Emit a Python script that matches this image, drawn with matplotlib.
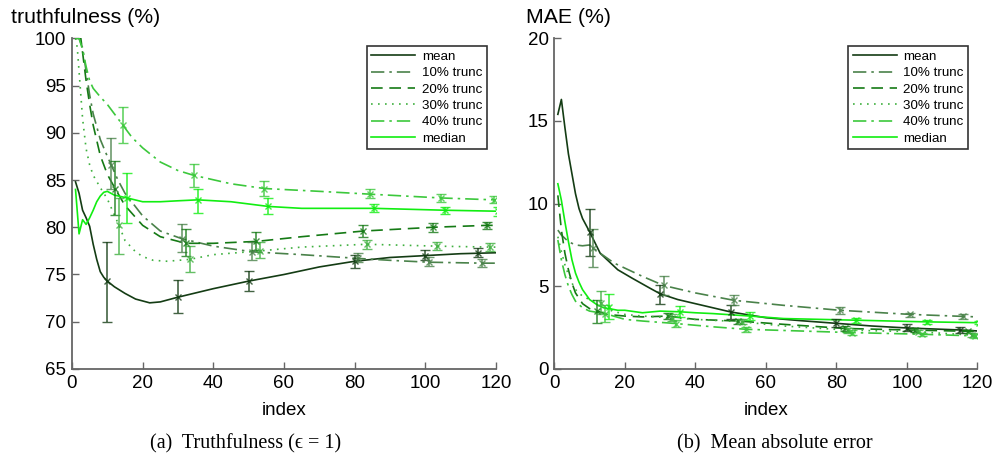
import matplotlib
matplotlib.use("Agg")
import matplotlib.pyplot as plt

plt.rcParams['font.family'] = ['Liberation Sans', 'DejaVu Sans']

# ---------------- data: truthfulness (left) ----------------
series_names = ["mean", "10% trunc", "20% trunc", "30% trunc", "40% trunc", "median"]

t_mean_x = [1, 2, 3, 4, 5, 6, 7, 8, 9, 10, 12, 15, 18, 20, 22, 25, 30, 40, 50, 60, 70, 80, 90, 100, 110, 120]
t_mean_y = [84.8, 83.6, 81.8, 81.0, 80.1, 78.2, 76.6, 75.3, 74.7, 74.3, 73.7, 73.0, 72.4, 72.2, 72.0, 72.1, 72.6, 73.5, 74.3, 75.0, 75.8, 76.4, 76.8, 77.0, 77.2, 77.3]

t_t10_x = [1, 2, 3, 4, 5, 6, 8, 10, 11.1, 13, 15, 20, 25, 31, 40, 51, 65, 81, 90, 101, 116, 120]
t_t10_y = [100, 100, 99.0, 96.5, 94.0, 92.0, 89.3, 87.5, 86.6, 85.0, 83.6, 81.2, 79.6, 78.8, 78.0, 77.4, 77.1, 76.7, 76.5, 76.3, 76.2, 76.2]

t_t20_x = [1, 2, 2.5, 3, 4, 5, 6, 8, 10, 12.2, 15, 20, 25, 32.2, 40, 52.2, 65, 82.5, 102.3, 117.4, 120]
t_t20_y = [100, 100, 100, 98.5, 95.5, 93.0, 90.8, 87.6, 85.6, 84.1, 82.3, 80.2, 79.0, 78.3, 78.3, 78.5, 79.0, 79.6, 80.0, 80.2, 80.2]

t_t30_x = [1, 1.5, 2, 3, 4, 5, 6, 8, 10, 13.3, 15, 18, 20, 23, 27, 33.3, 40, 53.3, 65, 83.4, 103.3, 118.4, 120]
t_t30_y = [100, 99.0, 96.5, 91.5, 88.3, 86.6, 85.5, 84.2, 83.0, 80.2, 78.6, 77.4, 76.9, 76.5, 76.4, 76.6, 77.1, 77.5, 77.9, 78.2, 78.0, 77.9, 77.9]

t_t40_x = [1, 2, 3, 4, 5, 6, 8, 10, 12, 14.4, 17, 20, 25, 30, 34.4, 45, 54.4, 70, 84.4, 104.4, 119.4, 120]
t_t40_y = [100, 100, 98.8, 97.0, 95.5, 94.7, 93.8, 93.0, 92.0, 90.8, 89.5, 88.4, 86.9, 86.0, 85.5, 84.6, 84.1, 83.8, 83.5, 83.1, 82.9, 82.9]

t_med_x = [1, 2, 3, 4, 5, 6, 7, 8, 9, 10, 12, 15.6, 20, 25, 30, 35.6, 45, 55.6, 65, 85.6, 105.6, 120]
t_med_y = [84.0, 79.3, 80.8, 80.3, 81.0, 81.8, 82.7, 83.3, 83.7, 83.8, 83.4, 83.1, 82.7, 82.7, 82.8, 82.9, 82.7, 82.2, 82.0, 82.0, 81.8, 81.7]

# error bars (x, value, low, high)
t_err = {
    "mean":      ([10, 30, 50, 80, 100, 115], [74.3, 72.6, 74.3, 76.4, 77.0, 77.3],
                  [70.0, 70.9, 73.3, 75.7, 76.5, 76.8], [78.4, 74.4, 75.4, 77.1, 77.6, 77.8]),
    "10% trunc": ([11.1, 31, 51, 81, 101, 116], [86.6, 78.8, 77.4, 76.7, 76.3, 76.2],
                  [84.0, 77.4, 76.5, 76.3, 75.9, 75.8], [89.4, 80.3, 78.4, 77.3, 76.8, 76.6]),
    "20% trunc": ([12.2, 32.2, 52.2, 82.5, 102.3, 117.4], [84.1, 78.3, 78.5, 79.6, 80.0, 80.2],
                  [81.3, 77.0, 77.6, 79.0, 79.5, 79.8], [87.0, 79.8, 79.5, 80.2, 80.4, 80.6]),
    "30% trunc": ([13.3, 33.3, 53.3, 83.4, 103.3, 118.4], [80.2, 76.6, 77.5, 78.2, 78.0, 77.9],
                  [77.2, 75.3, 76.7, 77.7, 77.6, 77.5], [83.1, 78.0, 78.4, 78.7, 78.4, 78.3]),
    "40% trunc": ([14.4, 34.4, 54.4, 84.4, 104.4, 119.4], [90.8, 85.5, 84.1, 83.5, 83.1, 82.9],
                  [88.9, 84.3, 83.3, 83.1, 82.7, 82.6], [92.7, 86.7, 84.9, 84.0, 83.5, 83.3]),
    "median":    ([15.6, 35.6, 55.6, 85.6, 105.6, 120.6], [83.1, 82.9, 82.3, 82.0, 81.8, 81.7],
                  [80.4, 81.5, 81.4, 81.6, 81.4, 81.2], [85.7, 84.1, 83.1, 82.5, 82.1, 82.1]),
}

# ---------------- data: MAE (right) ----------------
m_mean_x = [1, 2, 3, 4, 5, 6, 7, 8, 10, 13, 15, 18, 22, 27, 30, 35, 40, 50, 60, 70, 80, 90, 100, 110, 115, 120]
m_mean_y = [15.4, 16.3, 14.6, 13.0, 11.8, 10.6, 9.7, 9.1, 8.3, 7.0, 6.6, 6.0, 5.5, 4.9, 4.55, 4.2, 3.95, 3.45, 3.1, 2.92, 2.76, 2.6, 2.48, 2.4, 2.36, 2.3]

m_t10_x = [1, 2, 3, 4, 6, 8, 10, 11.1, 13, 15, 17, 20, 25, 31, 40, 51, 65, 81, 101, 116, 120]
m_t10_y = [8.4, 8.1, 7.9, 7.7, 7.5, 7.45, 7.5, 7.3, 7.0, 6.7, 6.4, 6.1, 5.6, 5.05, 4.6, 4.15, 3.85, 3.55, 3.3, 3.18, 3.15]

m_t20_x = [1, 2, 3, 4, 5, 6, 8, 10, 12.2, 15, 20, 25, 32.2, 40, 52.2, 65, 82.5, 102.3, 117.4, 120]
m_t20_y = [10.5, 8.4, 7.0, 6.0, 5.2, 4.6, 3.95, 3.65, 3.5, 3.3, 3.2, 3.15, 3.2, 3.0, 2.9, 2.7, 2.45, 2.35, 2.28, 2.25]

m_t30_x = [1, 2, 3, 4, 5, 6, 8, 10, 13.3, 15, 20, 25, 33.3, 40, 53.3, 65, 83.4, 103.2, 118.4, 120]
m_t30_y = [8.0, 7.1, 6.3, 5.7, 5.2, 4.8, 4.4, 4.2, 4.0, 3.6, 3.3, 3.2, 3.1, 3.0, 2.85, 2.6, 2.35, 2.25, 2.05, 2.0]

m_t40_x = [1, 2, 3, 4, 5, 6, 8, 10, 14.4, 20, 25, 34.4, 45, 54.4, 65, 84.4, 104.2, 119.4, 120]
m_t40_y = [7.8, 6.6, 5.7, 5.0, 4.5, 4.1, 3.7, 3.5, 3.35, 3.0, 2.9, 2.75, 2.55, 2.4, 2.33, 2.2, 2.1, 2.0, 1.98]

m_med_x = [1, 2, 3, 4, 5, 6, 7, 8, 10, 12, 14, 15.6, 18, 20, 25, 30, 35.6, 40, 45, 55.6, 65, 85.6, 105.6, 120]
m_med_y = [11.2, 10.2, 8.9, 7.7, 6.6, 5.8, 5.25, 4.8, 4.2, 3.9, 3.7, 3.65, 3.55, 3.55, 3.4, 3.5, 3.46, 3.4, 3.35, 3.2, 3.05, 2.95, 2.85, 2.8]

m_err = {
    "mean":      ([10, 30, 50, 80, 100, 115], [8.3, 4.55, 3.45, 2.8, 2.5, 2.38],
                  [6.85, 3.95, 3.05, 2.55, 2.3, 2.2], [9.7, 5.1, 3.85, 3.05, 2.7, 2.55]),
    "10% trunc": ([11.1, 31, 51, 81, 101, 116], [7.3, 5.05, 4.15, 3.55, 3.3, 3.18],
                  [6.15, 4.5, 3.85, 3.35, 3.15, 3.05], [8.45, 5.6, 4.45, 3.75, 3.4, 3.3]),
    "20% trunc": ([12.2, 32.2, 52.2, 82.5, 102.3, 117.4], [3.5, 3.2, 2.9, 2.45, 2.35, 2.28],
                  [2.8, 3.0, 2.75, 2.3, 2.25, 2.2], [4.2, 3.4, 3.05, 2.6, 2.45, 2.36]),
    "30% trunc": ([13.3, 33.3, 53.3, 83.4, 103.2, 118.4], [4.0, 3.1, 2.85, 2.35, 2.25, 2.05],
                  [3.3, 2.9, 2.7, 2.2, 2.15, 1.95], [4.7, 3.3, 3.0, 2.5, 2.35, 2.15]),
    "40% trunc": ([14.4, 34.4, 54.4, 84.4, 104.2, 119.4], [3.35, 2.75, 2.4, 2.2, 2.1, 2.0],
                  [2.85, 2.55, 2.25, 2.05, 2.0, 1.9], [3.85, 2.95, 2.55, 2.35, 2.2, 2.1]),
    "median":    ([15.6, 35.6, 55.6, 85.6, 105.6, 120.6], [3.75, 3.45, 3.2, 2.95, 2.85, 2.8],
                  [3.0, 3.15, 2.95, 2.8, 2.72, 2.7], [4.55, 3.8, 3.45, 3.1, 2.98, 2.9]),
}

t_lines = {"mean": (t_mean_x, t_mean_y), "10% trunc": (t_t10_x, t_t10_y),
           "20% trunc": (t_t20_x, t_t20_y), "30% trunc": (t_t30_x, t_t30_y),
           "40% trunc": (t_t40_x, t_t40_y), "median": (t_med_x, t_med_y)}
m_lines = {"mean": (m_mean_x, m_mean_y), "10% trunc": (m_t10_x, m_t10_y),
           "20% trunc": (m_t20_x, m_t20_y), "30% trunc": (m_t30_x, m_t30_y),
           "40% trunc": (m_t40_x, m_t40_y), "median": (m_med_x, m_med_y)}

x_ticks = [0, 20, 40, 60, 80, 100, 120]
t_yticks = [65, 70, 75, 80, 85, 90, 95, 100]
m_yticks = [0, 5, 10, 15, 20]

# ---------------- styles ----------------
colors = {"mean": "#143c14", "10% trunc": "#4a824a", "20% trunc": "#157a15",
          "30% trunc": "#3fb03f", "40% trunc": "#3cc83c", "median": "#11ee11"}
styles = {"mean": "-", "10% trunc": (0, (8, 3, 1.5, 3)), "20% trunc": (0, (7, 4)),
          "30% trunc": (0, (1, 3.2)), "40% trunc": (0, (8, 3, 1.5, 3)), "median": "-"}

fig = plt.figure(figsize=(9.97, 4.61), dpi=100)
ax1 = fig.add_axes([0.0722, 0.1996, 0.4253, 0.7174])
ax2 = fig.add_axes([0.556, 0.1996, 0.4243, 0.7174])


def draw(ax, lines, errs, ylim, yticks, ylabel, ylabel_x):
    for name in series_names:
        xs, ys = lines[name]
        ax.plot(xs, ys, color=colors[name], linestyle=styles[name], lw=1.2, label=name)
    for name in series_names:
        ex, ev, elo, ehi = errs[name]
        lo = [v - l for v, l in zip(ev, elo)]
        hi = [h - v for v, h in zip(ev, ehi)]
        ax.errorbar(ex, ev, yerr=[lo, hi], fmt='x', color=colors[name], ecolor=colors[name],
                    alpha=0.8, ms=5, mew=1.0, elinewidth=1.2, capsize=3.5, capthick=1.2)
    ax.set_xlim(0, 120)
    ax.set_ylim(*ylim)
    ax.set_xticks(x_ticks)
    ax.set_yticks(yticks)
    for s in ["top", "right"]:
        ax.spines[s].set_visible(False)
    for s in ["left", "bottom"]:
        ax.spines[s].set_color("#666666")
        ax.spines[s].set_linewidth(1.3)
    ax.tick_params(direction="in", length=5, width=1, color="#666666",
                   labelsize=13.5, pad=4)
    ax.text(0.5, -0.125, "index", transform=ax.transAxes, ha="center", va="center",
            fontsize=13.5)
    ax.text(ylabel_x, 1.062, ylabel, transform=ax.transAxes, ha="left", va="center",
            fontsize=15.3)
    leg = ax.legend(loc="upper right", bbox_to_anchor=(0.985, 0.985), fontsize=9.6,
                    frameon=True, fancybox=False, handlelength=3.3, handletextpad=0.5,
                    borderpad=0.35, labelspacing=0.3, borderaxespad=0.2)
    leg.get_frame().set_edgecolor("black")
    leg.get_frame().set_linewidth(1.2)


draw(ax1, t_lines, t_err, (65, 100), t_yticks, "truthfulness (%)", -0.144)
draw(ax2, m_lines, m_err, (0, 20), m_yticks, "MAE (%)", -0.067)

cap_font = ["Liberation Serif", "DejaVu Serif"]
fig.text(0.246, 0.038, "(a)  Truthfulness (ϵ = 1)", ha="center", va="center",
         fontsize=14.5, family=cap_font)
fig.text(0.777, 0.038, "(b)  Mean absolute error", ha="center", va="center",
         fontsize=14.5, family=cap_font)

fig.savefig("out.png", dpi=100)
